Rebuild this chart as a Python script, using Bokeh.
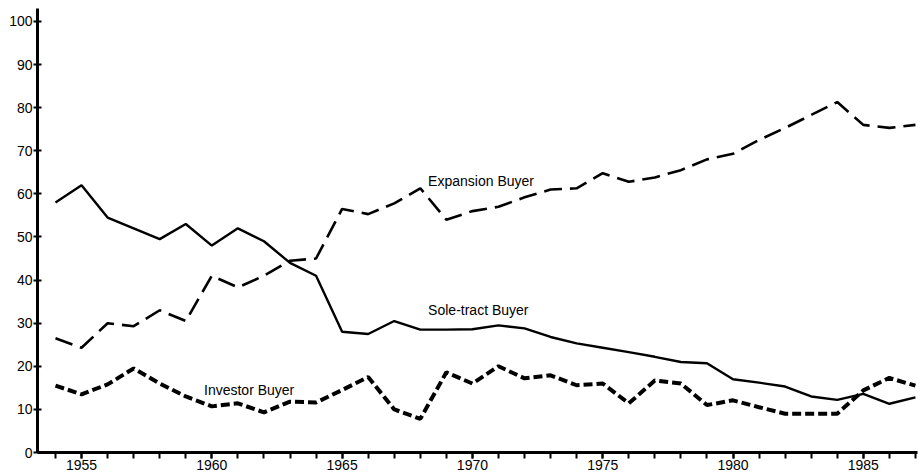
from bokeh.plotting import figure
from bokeh.models import FixedTicker, Label, Range1d
from bokeh.embed import file_html
from bokeh.resources import INLINE

years = list(range(1954, 1988))
sole_tract = [58, 62, 54.5, 52, 49.5, 53, 48, 52, 49, 44, 41, 28, 27.5, 30.5, 28.5, 28.5,
              28.6, 29.5, 28.8, 26.8, 25.3, 24.3, 23.3, 22.2, 21, 20.7, 17, 16.2, 15.3,
              13, 12.2, 13.6, 11.3, 12.8]
expansion = [26.5, 24.3, 30, 29.3, 33, 30.5, 41, 38.3, 41, 44.5, 45, 56.5, 55.3, 57.8, 61.3,
             54, 56, 57, 59.2, 61, 61.3, 64.8, 62.8, 63.8, 65.5, 68, 69.3, 72.5, 75.3, 78.3,
             81.3, 76, 75.3, 76]
investor = [15.5, 13.5, 15.8, 19.5, 16, 13, 10.7, 11.4, 9.3, 11.8, 11.6, 14.5, 17.5, 10, 7.8,
            18.6, 16, 20, 17.2, 17.9, 15.6, 16, 11.4, 16.7, 16, 11, 12.1, 10.5, 9, 9, 9,
            14.4, 17.3, 15.5]
label_years = [1955, 1960, 1965, 1970, 1975, 1980, 1985]
y_ticks = [0, 10, 20, 30, 40, 50, 60, 70, 80, 90, 100]
series_names = ["Expansion Buyer", "Sole-tract Buyer", "Investor Buyer"]

FONT = "Liberation Sans"

p = figure(width=922, height=475, output_backend="svg", toolbar_location=None,
           x_range=Range1d(1953.31, 1987.08), y_range=Range1d(0, 103))
p.min_border_left = 37
p.min_border_right = 5
p.min_border_top = 8
p.min_border_bottom = 23
p.outline_line_color = None
p.grid.visible = False
p.background_fill_color = "white"

p.line(years, sole_tract, line_color="black", line_width=2.4)
p.line(years, expansion, line_color="black", line_width=2.6, line_dash="18 8")
p.line(years, investor, line_color="black", line_width=4, line_dash="9 4")

# axes
xa = p.xaxis[0]
xa.ticker = FixedTicker(ticks=label_years, minor_ticks=years)
xa.axis_line_width = 3
xa.axis_line_color = "black"
xa.major_tick_line_width = 2
xa.minor_tick_line_width = 2
xa.major_tick_in = 0
xa.major_tick_out = 6
xa.minor_tick_in = 0
xa.minor_tick_out = 6
xa.major_label_standoff = 1
xa.axis_label_standoff = 0
xa.major_label_text_font = FONT
xa.major_label_text_font_size = "14px"
xa.major_label_text_color = "black"

ya = p.yaxis[0]
ya.ticker = FixedTicker(ticks=y_ticks, minor_ticks=[])
ya.axis_line_width = 3
ya.axis_line_color = "black"
ya.major_tick_line_width = 2
ya.major_tick_in = 4
ya.major_tick_out = 4
ya.major_label_standoff = 1
ya.axis_label_standoff = 0
ya.major_label_text_font = FONT
ya.major_label_text_font_size = "14px"
ya.major_label_text_color = "black"

# series labels
for name, x, y in zip(series_names, [1968.3, 1968.3, 1959.7], [63, 33, 14.4]):
    p.add_layout(Label(x=x, y=y, text=name, text_font=FONT, text_font_size="14px",
                       text_color="black", text_baseline="middle", text_align="left"))

open("out.html", "w").write(file_html(p, INLINE))
